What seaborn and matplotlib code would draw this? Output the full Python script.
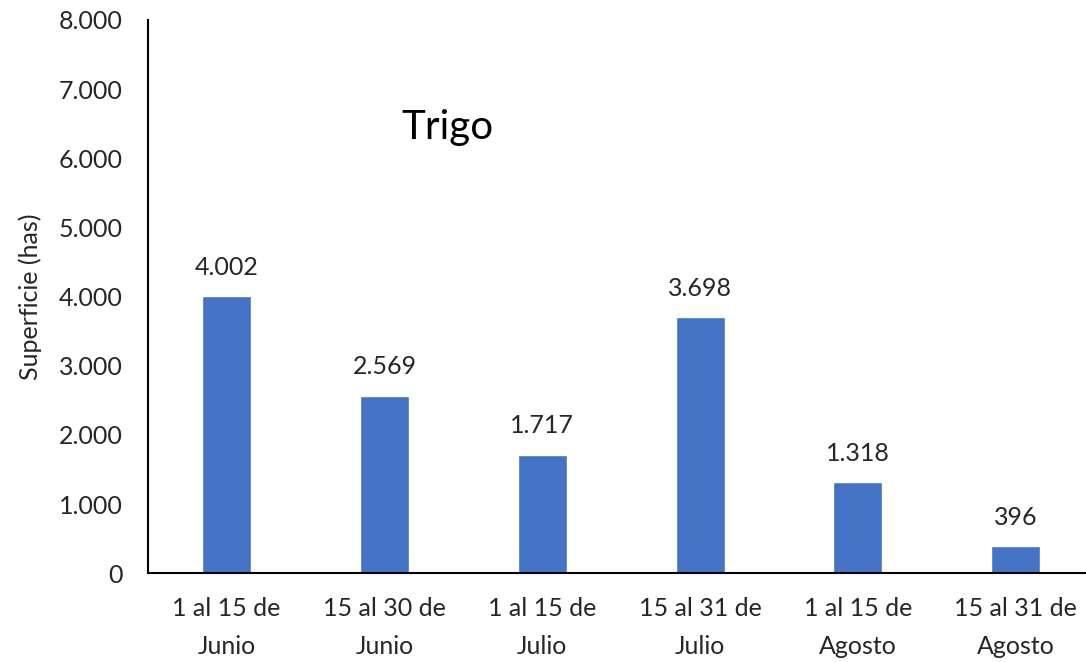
import matplotlib
matplotlib.use("Agg")
import matplotlib.pyplot as plt
import matplotlib.ticker as mticker
import seaborn as sns
import pandas as pd

categories = ["1 al 15 de\nJunio", "15 al 30 de\nJunio", "1 al 15 de\nJulio",
              "15 al 31 de\nJulio", "1 al 15 de\nAgosto", "15 al 31 de\nAgosto"]
superficie = [4002, 2569, 1717, 3698, 1318, 396]
y_ticks = [0, 1000, 2000, 3000, 4000, 5000, 6000, 7000, 8000]

def miles(v):
	return f"{int(v):,}".replace(",", ".")

sns.set_style("white")
plt.rcParams['font.family'] = ['Lato', 'DejaVu Sans']

df = pd.DataFrame({"periodo": categories, "sup": superficie})

fig = plt.figure(figsize=(10.86, 6.62), dpi=100)
ax = fig.add_axes([0.136, 0.134, 0.872, 0.836])
sns.barplot(data=df, x="periodo", y="sup", color="#4472C4", width=0.31,
			saturation=1, ax=ax)

for i, v in enumerate(superficie):
	ax.text(i, v + 250, miles(v), ha="center", va="bottom", fontsize=18, color="#262626")

ax.set_ylim(0, 8000)
ax.set_xlim(-0.5, 5.5)
ax.set_yticks(y_ticks)
ax.yaxis.set_major_formatter(mticker.FuncFormatter(lambda v, p: miles(v)))
ax.tick_params(axis="y", length=0, labelsize=18, colors="#262626", pad=18)
ax.tick_params(axis="x", length=0, labelsize=18, colors="#262626", pad=17)
for lab in ax.get_xticklabels():
	lab.set_linespacing(1.8)
ax.set_xlabel("")
ax.set_ylabel("Superficie (has)", fontsize=18, color="#262626", labelpad=12)
for s in ["top", "right"]:
	ax.spines[s].set_visible(False)
for s in ["left", "bottom"]:
	ax.spines[s].set_color("black")
	ax.spines[s].set_linewidth(1.5)

ax.text(1.4, 6440, "Trigo", fontsize=29, ha="center", va="center", color="black")

fig.savefig("out.png", dpi=100)
